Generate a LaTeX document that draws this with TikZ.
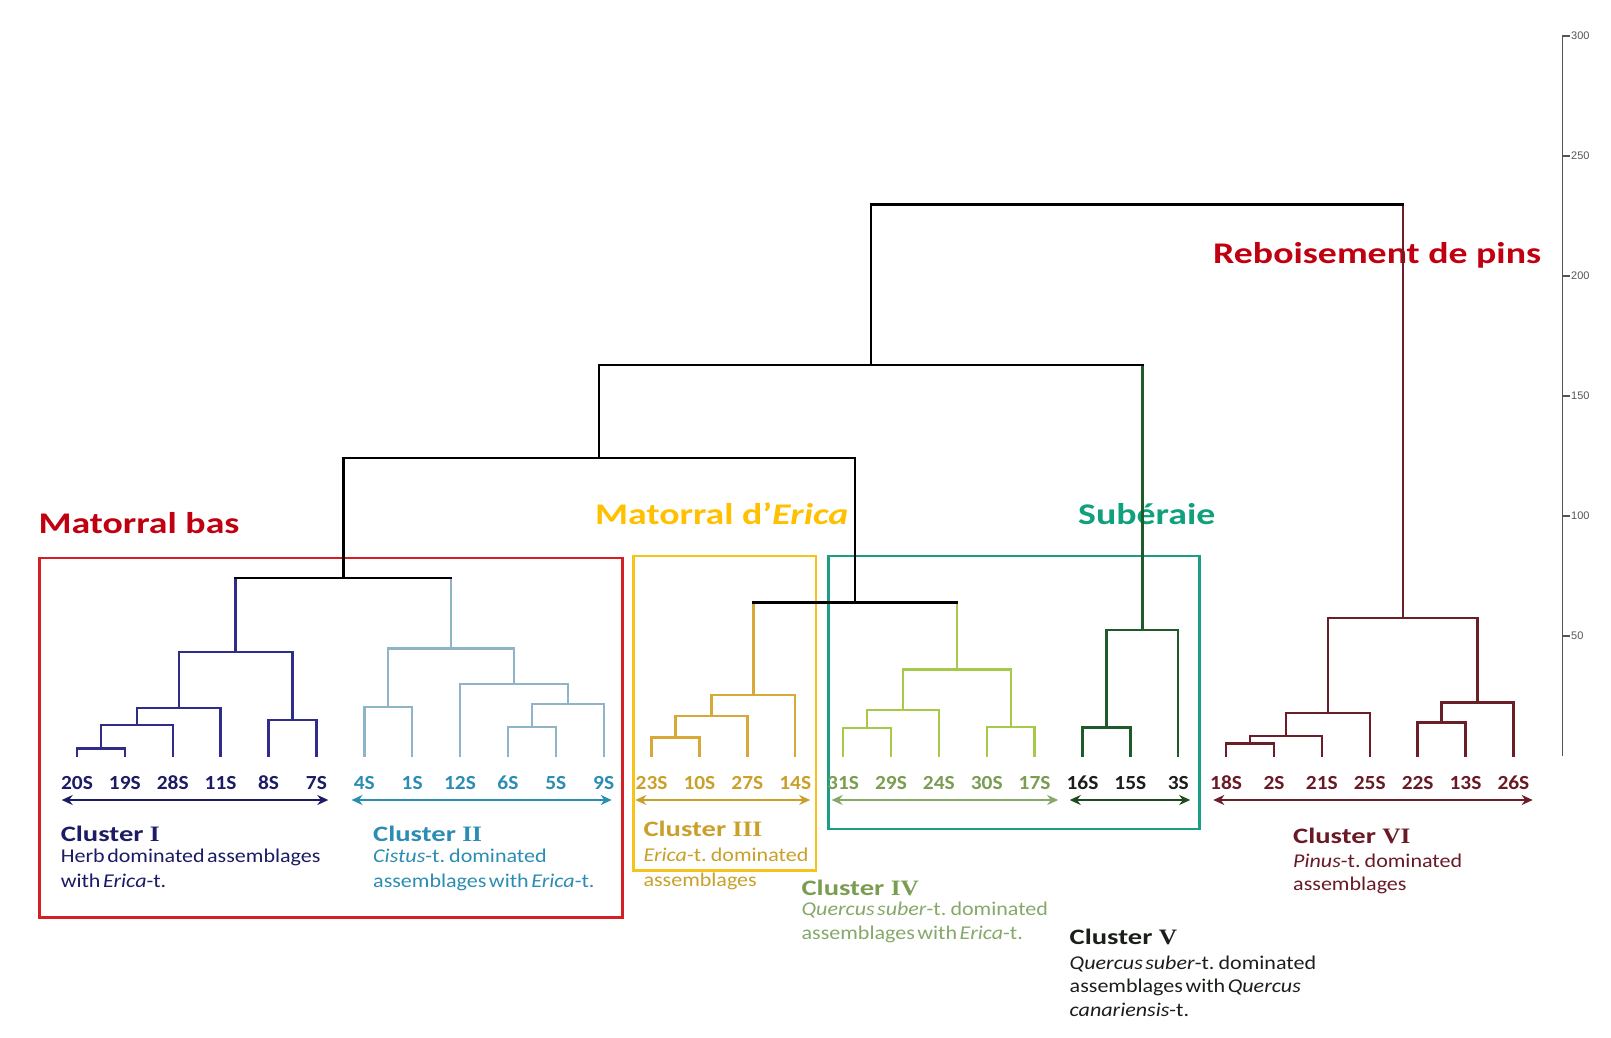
\documentclass[tikz,border=0pt]{standalone}
\usepackage{fontspec}
\setmainfont{Carlito}
\newfontfamily\hdrf{Carlito}[FakeStretch=1.26]
\newfontfamily\lblf{Carlito}[FakeStretch=1.07]
\newfontfamily\ttlf{Carlito}[FakeStretch=1.3]
\newfontfamily\dscf{Carlito}[FakeStretch=1.13,WordSpace=0.5]
\newfontfamily\romf{Liberation Serif}[FakeStretch=1.15]
\newfontfamily\axf{Liberation Sans}
\usetikzlibrary{arrows.meta}
\definecolor{hred}{HTML}{C00010}
\definecolor{hgold}{HTML}{FFC000}
\definecolor{hteal}{HTML}{10A07C}
\definecolor{bred}{HTML}{D42024}
\definecolor{bgold}{HTML}{F7C21A}
\definecolor{bteal}{HTML}{1B9E85}
\definecolor{cIl}{HTML}{2E2E8A}
\definecolor{cIt}{HTML}{1B1B66}
\definecolor{cIIl}{HTML}{8FB4C6}
\definecolor{cIIt}{HTML}{2B8DB3}
\definecolor{cIIIl}{HTML}{D8A838}
\definecolor{cIIIt}{HTML}{C9A02A}
\definecolor{cIVl}{HTML}{A6C94A}
\definecolor{cIVt}{HTML}{7A9D52}
\definecolor{cIVa}{HTML}{86A868}
\definecolor{cVl}{HTML}{1F5A2C}
\definecolor{cVt}{HTML}{1A1F1A}
\definecolor{cVa}{HTML}{1F4A1F}
\definecolor{cVIl}{HTML}{6A1E28}
\definecolor{cVIt}{HTML}{6A1A24}
\definecolor{axc}{HTML}{555555}
\tikzset{
  den/.style={line width=2.4pt, line cap=rect},
  boxln/.style={line width=2.6pt},
  rng/.style={line width=2.4pt, {Stealth[length=11pt,width=10pt]}-{Stealth[length=11pt,width=10pt]}},
  leaf/.style={anchor=base, inner sep=0pt, font=\lblf\bfseries\fontsize{20}{24}\selectfont},
  hdr/.style={anchor=base west, inner sep=0pt, font=\hdrf\bfseries\fontsize{30}{36}\selectfont},
  ttl/.style={anchor=base west, inner sep=0pt, font=\ttlf\bfseries\fontsize{22}{26}\selectfont},
  dsc/.style={anchor=base west, inner sep=0pt, font=\dscf\fontsize{19.5}{24}\selectfont},
  axl/.style={anchor=west, inner sep=0pt, text=axc, font=\axf\fontsize{11}{13}\selectfont},
}
\newcommand\rn[1]{{\romf\bfseries #1}}
\begin{document}
\begin{tikzpicture}[x=1pt,y=-1pt]
\useasboundingbox[fill=white] (0,0) rectangle (1611,1038);

% leaf positions
\foreach \i in {0,...,30} \coordinate (L\i) at ({77+47.88*\i},756);

% group boxes
\draw[boxln,bred] (39.6,558) rectangle (622.5,917.5);
\draw[boxln,bgold] (633.5,556) rectangle (816,870.7);
\draw[boxln,bteal] (828.6,556) rectangle (1199.5,829);

% headers
\node[hdr,text=hred] (hbas) at (38.3,533.3) {Matorral bas};
\node[hdr,text=hgold] (herica) at (595,524.3) {Matorral d’\textit{Erica}};
\node[hdr,text=hteal] (hsub) at (1078,524.3) {Subéraie};
\node[hdr,text=hred] (hpin) at (1213,263.3) {Reboisement de pins};

% Cluster I
\begin{scope}[den,cIl]
\draw (77,756) |- (124.9,748.3) -- (124.9,756);
\draw (100.9,748.3) |- (172.8,725) -- (172.8,756);
\draw (136.9,725) |- (220.6,707.7) -- (220.6,756);
\draw (268.5,756) |- (316.4,720) -- (316.4,756);
\draw (178.7,707.7) |- (292.5,651.7) -- (292.5,720);
\draw (235.6,651.7) -- (235.6,578);
\end{scope}
% Cluster II
\begin{scope}[den,cIIl]
\draw (364.3,756) |- (412.2,706.7) -- (412.2,756);
\draw (507.9,756) |- (555.8,726.7) -- (555.8,756);
\draw (531.9,726.7) |- (603.7,704) -- (603.7,756);
\draw (460,756) |- (567.8,684) -- (567.8,704);
\draw (388.2,706.7) |- (513.9,648.3) -- (513.9,684);
\draw (451,648.3) -- (451,578);
\end{scope}
% Cluster III
\begin{scope}[den,cIIIl]
\draw (651.6,756) |- (699.4,737.3) -- (699.4,756);
\draw (675.5,737.3) |- (747.3,716) -- (747.3,756);
\draw (711.4,716) |- (795.2,695) -- (795.2,756);
\draw (753.3,695) -- (753.3,602.3);
\end{scope}
% Cluster IV
\begin{scope}[den,cIVl]
\draw (843.1,756) |- (891,727.7) -- (891,756);
\draw (867,727.7) |- (938.8,710) -- (938.8,756);
\draw (986.7,756) |- (1034.6,726.7) -- (1034.6,756);
\draw (902.9,710) |- (1010.7,669.3) -- (1010.7,726.7);
\draw (956.8,669.3) -- (956.8,602.3);
\end{scope}
% Cluster V
\begin{scope}[den,cVl]
\draw (1082.5,756) |- (1130.4,727.3) -- (1130.4,756);
\draw (1106.4,727.3) |- (1178.2,630) -- (1178.2,756);
\draw (1142.3,630) -- (1142.3,364.7);
\end{scope}
% Cluster VI
\begin{scope}[den,cVIl]
\draw (1226.1,756) |- (1274,743.3) -- (1274,756);
\draw (1250,743.3) |- (1321.9,736) -- (1321.9,756);
\draw (1286,736) |- (1369.8,712.7) -- (1369.8,756);
\draw (1417.6,756) |- (1465.5,722.3) -- (1465.5,756);
\draw (1441.5,722.3) |- (1513.4,702.3) -- (1513.4,756);
\draw (1327.9,712.7) |- (1477.5,617.7) -- (1477.5,702.3);
\draw (1402.7,617.7) -- (1402.7,204.5);
\end{scope}
% upper black links
\begin{scope}[den,black]
\draw (235.6,578) -- (451,578);
\draw (343.3,578) -- (343.3,458.2);
\draw (753.3,602.3) -- (956.8,602.3);
\draw (855,602.3) -- (855,458.2);
\draw (343.3,458.2) -- (855,458.2);
\draw (599.2,458.2) -- (599.2,364.7);
\draw (599.2,364.7) -- (1142.3,364.7);
\draw (870.8,364.7) -- (870.8,204.5);
\draw (870.8,204.5) -- (1402.7,204.5);
\end{scope}

% leaf labels
\foreach \lab [count=\i from 0] in {20S,19S,28S,11S,8S,7S}
  \node[leaf,text=cIt] (n\i) at ([yshift=-33.3pt]L\i) {\lab};
\foreach \lab [count=\i from 6] in {4S,1S,12S,6S,5S,9S}
  \node[leaf,text=cIIt] (n\i) at ([yshift=-33.3pt]L\i) {\lab};
\foreach \lab [count=\i from 12] in {23S,10S,27S,14S}
  \node[leaf,text=cIIIt] (n\i) at ([yshift=-33.3pt]L\i) {\lab};
\foreach \lab [count=\i from 16] in {31S,29S,24S,30S,17S}
  \node[leaf,text=cIVt] (n\i) at ([yshift=-33.3pt]L\i) {\lab};
\foreach \lab [count=\i from 21] in {16S,15S,3S}
  \node[leaf,text=cVt] (n\i) at ([yshift=-33.3pt]L\i) {\lab};
\foreach \lab [count=\i from 24] in {18S,2S,21S,25S,22S,13S,26S}
  \node[leaf,text=cVIt] (n\i) at ([yshift=-33.3pt]L\i) {\lab};

% range arrows
\coordinate (aIl) at (61.7,800);   \coordinate (aIr) at (328.3,800);
\coordinate (aIIl) at (351.5,800); \coordinate (aIIr) at (611.7,800);
\coordinate (aIIIl) at (635.3,800); \coordinate (aIIIr) at (810.2,800);
\coordinate (aIVl) at (831.6,800); \coordinate (aIVr) at (1058.2,800);
\coordinate (aVl) at (1069.7,800); \coordinate (aVr) at (1190.2,800);
\coordinate (aVIl) at (1213.3,800); \coordinate (aVIr) at (1532.7,800);
\draw[rng,cIt] (aIl) -- (aIr);
\draw[rng,cIIt] (aIIl) -- (aIIr);
\draw[rng,cIIIt] (aIIIl) -- (aIIIr);
\draw[rng,cIVa] (aIVl) -- (aIVr);
\draw[rng,cVa] (aVl) -- (aVr);
\draw[rng,cVIl] (aVIl) -- (aVIr);

% cluster descriptions
\node[ttl,text=cIt] (tI) at (60.6,841.7) {Cluster \rn{I}};
\node[dsc,text=cIt] (dI1) at (60.6,862.7) {Herb dominated assemblages};
\node[dsc,text=cIt] (dI2) at (60.6,887.3) {with \textit{Erica}-t.};

\node[ttl,text=cIIt] (tII) at (373,841.7) {Cluster \rn{II}};
\node[dsc,text=cIIt] (dII1) at (373,862.7) {\textit{Cistus}-t. dominated};
\node[dsc,text=cIIt] (dII2) at (373,887.3) {assemblages with \textit{Erica}-t.};

\node[ttl,text=cIIIt] (tIII) at (643.3,836.7) {Cluster \rn{III}};
\node[dsc,text=cIIIt] (dIII1) at (643.3,861.7) {\textit{Erica}-t. dominated};
\node[dsc,text=cIIIt] (dIII2) at (643.3,886) {assemblages};

\node[ttl,text=cIVt] (tIV) at (801.4,895) {Cluster \rn{IV}};
\node[dsc,text=cIVa] (dIV1) at (801.4,915) {\textit{Quercus suber}-t. dominated};
\node[dsc,text=cIVa] (dIV2) at (801.4,939.3) {assemblages with \textit{Erica}-t.};

\node[ttl,text=cVt] (tV) at (1069.5,944) {Cluster \rn{V}};
\node[dsc,text=cVt] (dV1) at (1069.5,969) {\textit{Quercus suber}-t. dominated};
\node[dsc,text=cVt] (dV2) at (1069.5,992.5) {assemblages with \textit{Quercus}};
\node[dsc,text=cVt] (dV3) at (1069.5,1016) {\textit{canariensis}-t.};

\node[ttl,text=cVIt] (tVI) at (1293,843.3) {Cluster \rn{VI}};
\node[dsc,text=cVIt] (dVI1) at (1293,867.3) {\textit{Pinus}-t. dominated};
\node[dsc,text=cVIt] (dVI2) at (1293,890.7) {assemblages};

% height axis
\coordinate (axT) at (1562.5,35);
\coordinate (axB) at (1562.5,756);
\draw[axc,line width=1.8pt] (axT) -- (axB);
\foreach \v in {50,100,...,300} {
  \draw[axc,line width=1.4pt] (1562.5,{756-2.4*\v}) -- (1569.5,{756-2.4*\v});
  \node[axl] (ax\v) at (1571,{756-2.4*\v}) {\v};
}
\end{tikzpicture}
\end{document}
